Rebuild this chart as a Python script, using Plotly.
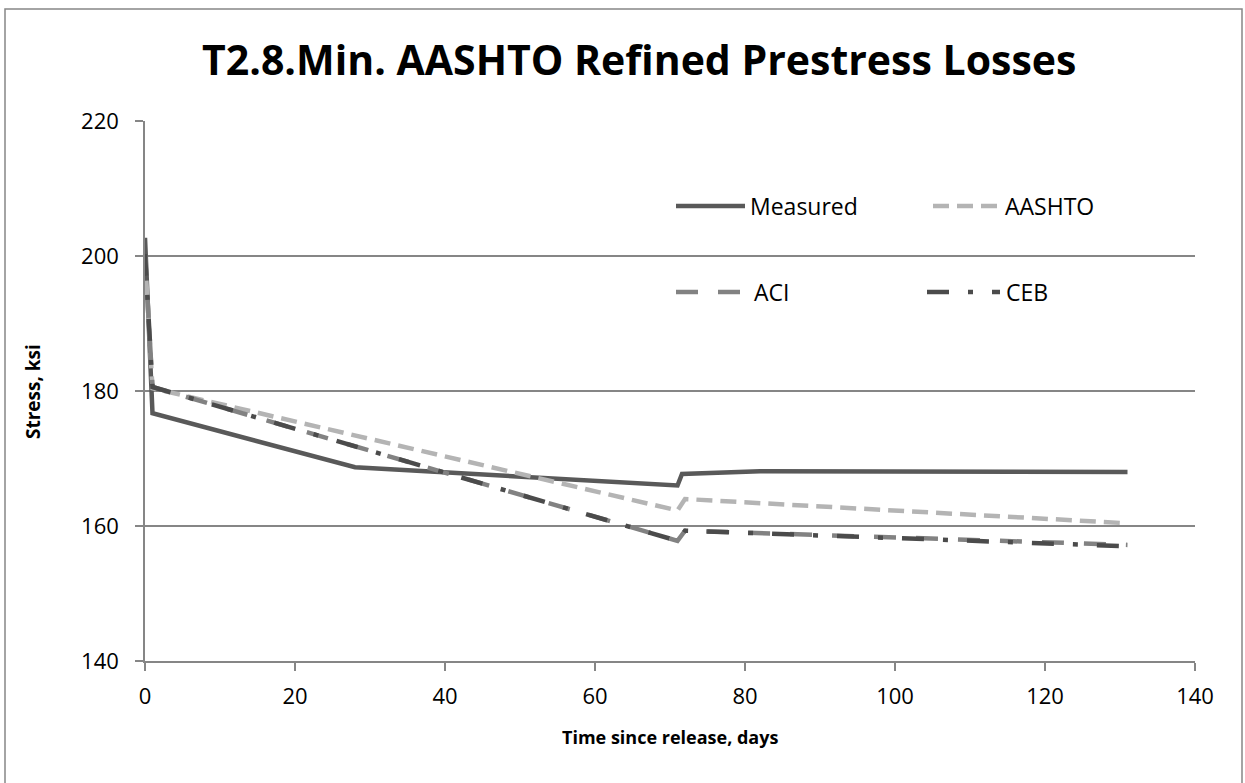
import plotly.graph_objects as go

# Stress history of the strand, days since release vs. stress (ksi)
measured_days = [0, 1, 28, 71, 71.6, 82, 131]
measured_ksi = [202.7, 176.7, 168.7, 166.0, 167.7, 168.1, 168.0]

aashto_days = [0, 1, 71, 72, 131]
aashto_ksi = [199.9, 180.4, 162.3, 164.0, 160.4]

aci_days = [0, 1, 71, 72, 131]
aci_ksi = [200.3, 180.6, 157.8, 159.3, 157.2]

ceb_days = [0, 1, 71, 72, 131]
ceb_ksi = [200.3, 180.6, 157.8, 159.3, 157.0]

x_ticks = [0, 20, 40, 60, 80, 100, 120, 140]
y_ticks = [140, 160, 180, 200, 220]

series = [
    ("Measured", measured_days, measured_ksi, "#595959", "solid"),
    ("AASHTO", aashto_days, aashto_ksi, "#B4B4B4", "16px,8px"),
    ("ACI", aci_days, aci_ksi, "#828282", "22px,20px"),
    ("CEB", ceb_days, ceb_ksi, "#4B4B4B", "22px,19px,5px,19px"),
]

FONT = "Open Sans"
W, H = 1245, 783
L, R, T, B = 145, 50, 121, 122
PW, PH = W - L - R, H - T - B


def px(x):
    return (x - L) / PW


def py(y):
    return (H - B - y) / PH


fig = go.Figure()
for name, xs, ys, color, dash in series:
    fig.add_trace(go.Scatter(
        x=xs, y=ys, mode="lines", name=name,
        line=dict(color=color, width=4.5, dash=dash),
        showlegend=False,
    ))

# Legend drawn as two rows of long line samples with labels
legend_items = [
    ("Measured", 676, 745, 206, 748),
    ("AASHTO", 933, 1000, 206, 1003),
    ("ACI", 676, 742, 292, 752),
    ("CEB", 927, 1000, 292, 1004),
]
style = {s[0]: (s[3], s[4]) for s in series}
shapes = []
annotations = []
for name, x0, x1, yy, xt in legend_items:
    color, dash = style[name]
    shapes.append(dict(type="line", xref="paper", yref="paper",
                       x0=px(x0), x1=px(x1), y0=py(yy), y1=py(yy),
                       line=dict(color=color, width=4.5, dash=dash)))
    annotations.append(dict(text=name, xref="paper", yref="paper",
                            x=px(xt), y=py(yy), xanchor="left", yanchor="middle",
                            showarrow=False, font=dict(family=FONT, size=23, color="#000")))

# Chart frame
shapes.append(dict(type="rect", xref="paper", yref="paper", layer="below",
                   x0=px(5), x1=px(1242), y0=py(800), y1=py(9),
                   line=dict(color="#868686", width=1.5), fillcolor="rgba(0,0,0,0)"))

annotations.append(dict(text="<b>T2.8.Min. AASHTO Refined Prestress Losses</b>",
                        xref="paper", yref="paper", x=px(639), y=py(59),
                        xanchor="center", yanchor="middle", showarrow=False,
                        font=dict(family=FONT, size=41, color="#000")))
annotations.append(dict(text="<b>Stress, ksi</b>", xref="paper", yref="paper",
                        x=px(33), y=py(391), xanchor="center", yanchor="middle",
                        textangle=-90, showarrow=False,
                        font=dict(family=FONT, size=19, color="#000")))
annotations.append(dict(text="<b>Time since release, days</b>", xref="paper", yref="paper",
                        x=px(670), y=py(737), xanchor="center", yanchor="middle",
                        showarrow=False, font=dict(family=FONT, size=18, color="#000")))

fig.update_layout(
    width=W, height=H,
    margin=dict(l=L, r=R, t=T, b=B, autoexpand=False),
    paper_bgcolor="white", plot_bgcolor="white",
    font=dict(family=FONT, size=22, color="#000"),
    shapes=shapes, annotations=annotations,
    xaxis=dict(range=[0, 140], tickvals=x_ticks, showgrid=False, zeroline=False,
               showline=True, linecolor="#868686", linewidth=1.5,
               ticks="outside", ticklen=8, tickcolor="#868686", tickwidth=1.5,
               tickfont=dict(family=FONT, size=22, color="#000"), ticklabelstandoff=7),
    yaxis=dict(range=[140, 220], tickvals=y_ticks, showgrid=True, gridcolor="#868686",
               gridwidth=1.5, zeroline=False,
               showline=True, linecolor="#868686", linewidth=1.5,
               ticks="outside", ticklen=8, tickcolor="#868686", tickwidth=1.5,
               tickfont=dict(family=FONT, size=22, color="#000"), ticklabelstandoff=12),
)

fig.write_html("out.html")
